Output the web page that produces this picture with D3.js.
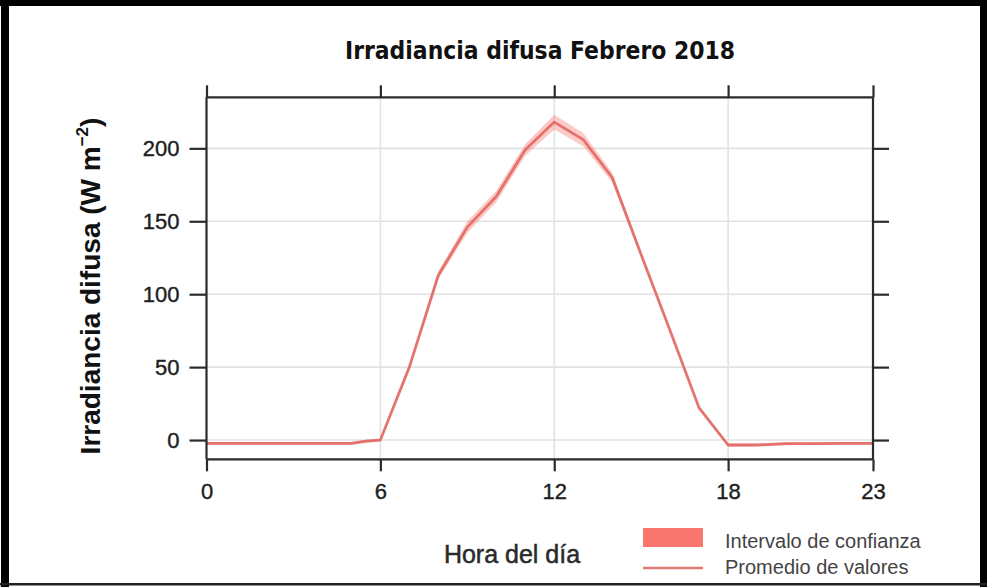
<!DOCTYPE html>
<html>
<head>
<meta charset="utf-8">
<script src="https://cdn.jsdelivr.net/npm/d3@7"></script>
<style>
  html, body { margin: 0; padding: 0; background: #fff; }
  svg { display: block; }
</style>
</head>
<body>
<svg id="chart" width="987" height="587"></svg>
<script>
// ---- data ----
const hours   = [0, 1, 2, 3, 4, 5, 5.5, 6, 7, 8, 9, 10, 11, 12, 13, 14, 15, 16, 17, 18, 19, 20, 21, 22, 23];
const meanVal = [-2.3, -2.3, -2.3, -2.3, -2.3, -2.3, -0.8, 0, 50, 113, 146, 167, 199, 218, 206, 180, 127, 75, 22, -3.4, -3.4, -2.5, -2.4, -2.3, -2.3];
const ciHalf  = [1, 1, 1, 1, 1, 1, 1, 1, 1.5, 2.5, 4, 4, 4, 5, 4.5, 3.5, 1.5, 1.2, 1, 1, 1, 1, 1, 1, 1];
const xTicks  = [0, 6, 12, 18, 23];
const yTicks  = [0, 50, 100, 150, 200];
const titleText = "Irradiancia difusa Febrero 2018";
const xLabel = "Hora del día";
const legendLabels = ["Intervalo de confianza", "Promedio de valores"];

const svg = d3.select("#chart");
const W = 987, H = 587;
const plot = { left: 206.5, right: 873, top: 97.3, bottom: 459.3 };

const x = d3.scaleLinear().domain([0, 23]).range([plot.left, plot.right]);
const y = d3.scaleLinear().domain([-13.2, 235]).range([plot.bottom, plot.top]);

const rows = hours.map((h, i) => ({ h, m: meanVal[i], lo: meanVal[i] - ciHalf[i], hi: meanVal[i] + ciHalf[i] }));

svg.append("rect").attr("x", 0).attr("y", 0).attr("width", W).attr("height", H).attr("fill", "#fff");

// gridlines
const grid = svg.append("g");
grid.selectAll("line.vg").data([6, 12, 18]).enter().append("line")
  .attr("x1", d => x(d)).attr("x2", d => x(d))
  .attr("y1", plot.top).attr("y2", plot.bottom)
  .attr("stroke", "#e2e2e2").attr("stroke-width", 1.6);
grid.selectAll("line.hg").data(yTicks).enter().append("line")
  .attr("x1", plot.left).attr("x2", plot.right)
  .attr("y1", d => y(d)).attr("y2", d => y(d))
  .attr("stroke", "#e2e2e2").attr("stroke-width", 1.6);

// band
const area = d3.area().x(d => x(d.h)).y0(d => y(d.lo)).y1(d => y(d.hi));
svg.append("path").datum(rows).attr("d", area)
  .attr("fill", "#F8766D").attr("fill-opacity", 0.38);

// mean line
const line = d3.line().x(d => x(d.h)).y(d => y(d.m));
svg.append("path").datum(rows).attr("d", line)
  .attr("fill", "none").attr("stroke", "#E0625C").attr("stroke-opacity", 0.85)
  .attr("stroke-width", 2.8).attr("stroke-linejoin", "round");

// axes
const axCol = "#2b2b2b";
function styleAxis(g) {
  g.selectAll(".domain").attr("stroke", axCol).attr("stroke-width", 2.2);
  g.selectAll(".tick line").attr("stroke", axCol).attr("stroke-width", 2.2);
  g.selectAll(".tick text").attr("fill", "#1e1e1e").attr("stroke", "#1e1e1e").attr("stroke-width", 0.4)
    .style("font-family", "'Liberation Sans', Arial, sans-serif").style("font-size", "22px");
}
const bottomAxis = svg.append("g").attr("transform", `translate(0,${plot.bottom})`)
  .call(d3.axisBottom(x).tickValues(xTicks).tickFormat(d3.format("d")).tickSizeInner(12).tickSizeOuter(0).tickPadding(12));
styleAxis(bottomAxis);
const topAxis = svg.append("g").attr("transform", `translate(0,${plot.top})`)
  .call(d3.axisTop(x).tickValues(xTicks).tickFormat("").tickSizeInner(12).tickSizeOuter(0));
styleAxis(topAxis);
const leftAxis = svg.append("g").attr("transform", `translate(${plot.left},0)`)
  .call(d3.axisLeft(y).tickValues(yTicks).tickFormat(d3.format("d")).tickSizeInner(17).tickSizeOuter(0).tickPadding(10));
styleAxis(leftAxis);
const rightAxis = svg.append("g").attr("transform", `translate(${plot.right},0)`)
  .call(d3.axisRight(y).tickValues(yTicks).tickFormat("").tickSizeInner(16).tickSizeOuter(0));
styleAxis(rightAxis);
[leftAxis, rightAxis].forEach(g => g.select(".domain").attr("d", `M0,${plot.top}V${plot.bottom}`));
[bottomAxis, topAxis].forEach(g => g.select(".domain").attr("d", `M${plot.left},0H${plot.right}`));

// title
const title = svg.append("text").attr("x", 540).attr("y", 59).attr("text-anchor", "middle")
  .style("font-family", "'Liberation Sans Narrow', 'DejaVu Sans Condensed', 'Arial Narrow', sans-serif")
  .style("font-weight", "bold").style("font-size", "25px").attr("fill", "#111")
  .text(titleText);
const tw = title.node().getComputedTextLength();
if (Math.abs(tw - 390) > 4) title.attr("textLength", 390).attr("lengthAdjust", "spacingAndGlyphs");

// y label
const yl = svg.append("text").attr("transform", "translate(100,286) rotate(-90)")
  .attr("text-anchor", "middle")
  .style("font-family", "'Liberation Sans', Arial, sans-serif").style("font-weight", "bold")
  .style("font-size", "28px").attr("fill", "#111");
yl.append("tspan").text("Irradiancia difusa (W m");
yl.append("tspan").attr("dy", -12).style("font-size", "17px").text("−2");
yl.append("tspan").attr("dy", 12).text(")");

// x label
svg.append("text").attr("x", 512).attr("y", 563).attr("text-anchor", "middle")
  .style("font-family", "'Liberation Sans', Arial, sans-serif")
  .attr("stroke", "#2a2a2a").attr("stroke-width", 0.5)
  .style("font-size", "25px").attr("fill", "#2a2a2a").text(xLabel);

// legend
const lg = svg.append("g");
lg.append("rect").attr("x", 643).attr("y", 528).attr("width", 60).attr("height", 19).attr("fill", "#F8766D");
lg.append("line").attr("x1", 643).attr("x2", 703).attr("y1", 568).attr("y2", 568)
  .attr("stroke", "#E0625C").attr("stroke-opacity", 0.85).attr("stroke-width", 2.6);
lg.selectAll("text").data(legendLabels).enter().append("text")
  .attr("x", 725).attr("y", (d, i) => 548 + i * 26)
  .style("font-family", "'Liberation Sans', Arial, sans-serif").style("font-size", "20px")
  .attr("fill", "#444").text(d => d);

// outer frame
svg.append("rect").attr("x", 0).attr("y", 0).attr("width", W).attr("height", 6).attr("fill", "#000");
svg.append("rect").attr("x", 1).attr("y", 0).attr("width", 8).attr("height", H).attr("fill", "#000");
svg.append("rect").attr("x", 980).attr("y", 0).attr("width", 7).attr("height", H).attr("fill", "#000");
svg.append("rect").attr("x", 0).attr("y", 583).attr("width", W).attr("height", 2.5).attr("fill", "#222");
</script>
</body>
</html>
